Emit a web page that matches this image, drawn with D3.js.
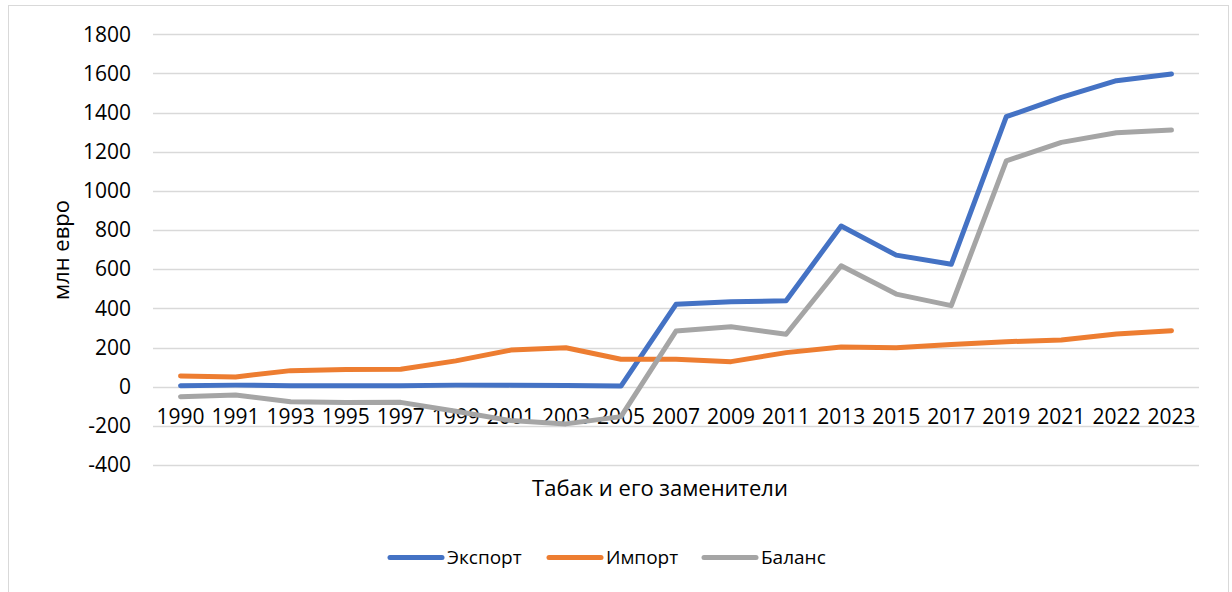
<!DOCTYPE html>
<html>
<head>
<meta charset="utf-8">
<script src="https://cdn.jsdelivr.net/npm/d3@7"></script>
<style>
  html, body { margin: 0; padding: 0; background: #fff; }
  svg { display: block; }
  text { font-family: "Open Sans", "Liberation Sans", sans-serif; fill: #000; }
</style>
</head>
<body>
<svg id="chart" width="1232" height="592"></svg>
<script>
// Years on the category axis
const years = ["1990","1991","1993","1995","1997","1999","2001","2003","2005","2007","2009","2011","2013","2015","2017","2019","2021","2022","2023"];
// Tobacco trade, million euro
const exportVals = [5, 8, 5, 5, 5, 8, 8, 6, 3, 421, 434, 439, 821, 672, 625, 1379, 1478, 1563, 1597];
const importVals = [55, 50, 82, 88, 89, 132, 187, 199, 140, 140, 128, 174, 203, 199, 216, 230, 238, 269, 286];
const balanceVals = [-51, -42, -77, -81, -80, -125, -173, -190, -153, 284, 306, 268, 618, 473, 414, 1154, 1248, 1297, 1311];
const yTicks = [-400, -200, 0, 200, 400, 600, 800, 1000, 1200, 1400, 1600, 1800];

const seriesNames = ["Экспорт", "Импорт", "Баланс"];
const seriesColors = ["#4472C4", "#ED7D31", "#A5A5A5"];

const series = [exportVals, importVals, balanceVals].map((vals, i) => ({
  name: seriesNames[i],
  color: seriesColors[i],
  values: vals
}));

const svg = d3.select("#chart");

// chart frame
svg.append("rect")
  .attr("x", 8.5).attr("y", 5.5)
  .attr("width", 1220).attr("height", 600)
  .attr("fill", "#fff").attr("stroke", "#D9D9D9").attr("stroke-width", 1);

const x = d3.scaleBand().domain(years).range([153, 1199]);
const y = d3.scaleLinear().domain([-400, 1800]).range([465, 34.3]);
const cx = d => x(d) + x.bandwidth() / 2;

// horizontal gridlines
svg.append("g").selectAll("line").data(yTicks).join("line")
  .attr("x1", 153).attr("x2", 1199)
  .attr("y1", d => Math.round(y(d)) + 0.5).attr("y2", d => Math.round(y(d)) + 0.5)
  .attr("stroke", "#D9D9D9").attr("stroke-width", 1.3);

// value axis labels (plain hyphen for negatives)
const yAxis = d3.axisLeft(y).tickValues(yTicks).tickSize(0).tickPadding(0).tickFormat(d => String(d));
svg.append("g")
  .attr("transform", "translate(131,0)")
  .call(yAxis)
  .call(g => g.select(".domain").remove())
  .call(g => g.selectAll("text").attr("font-size", 21).attr("font-family", "Open Sans, sans-serif"));

// category axis labels along the zero line
const xAxis = d3.axisBottom(x).tickSize(0).tickPadding(22);
svg.append("g")
  .attr("transform", `translate(0,${y(0)})`)
  .call(xAxis)
  .call(g => g.select(".domain").remove())
  .call(g => g.selectAll("text").attr("font-size", 21).attr("font-family", "Open Sans, sans-serif"));

// lines
const line = d3.line()
  .x((d, i) => cx(years[i]))
  .y(d => y(d));

svg.append("g").selectAll("path").data(series).join("path")
  .attr("d", s => line(s.values))
  .attr("fill", "none")
  .attr("stroke", s => s.color)
  .attr("stroke-width", 5)
  .attr("stroke-linejoin", "round")
  .attr("stroke-linecap", "round");

// axis titles
svg.append("text")
  .attr("transform", "translate(69,250) rotate(-90)")
  .attr("text-anchor", "middle")
  .attr("font-size", 22)
  .text("млн евро");

svg.append("text")
  .attr("x", 660).attr("y", 496)
  .attr("text-anchor", "middle")
  .attr("font-size", 22)
  .text("Табак и его заменители");

// legend
const legendX = [390, 549, 704];
const lg = svg.append("g").selectAll("g").data(series).join("g")
  .attr("transform", (d, i) => `translate(${legendX[i]},557.5)`);
lg.append("line")
  .attr("x1", 0).attr("x2", 52).attr("y1", 0).attr("y2", 0)
  .attr("stroke", d => d.color).attr("stroke-width", 5).attr("stroke-linecap", "round");
lg.append("text")
  .attr("x", 57).attr("y", 0).attr("dy", "0.35em")
  .attr("font-size", 19)
  .text(d => d.name);
</script>
</body>
</html>
